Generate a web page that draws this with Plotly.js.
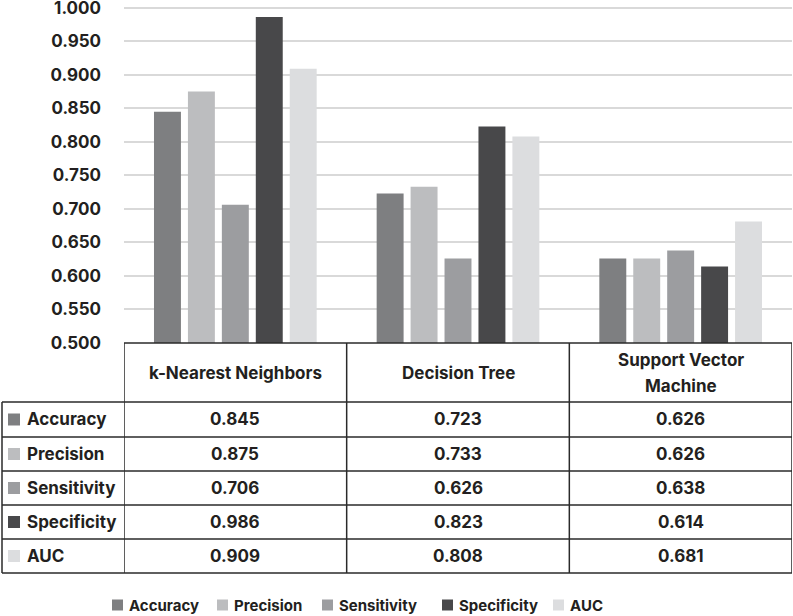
<!DOCTYPE html>
<html><head><meta charset="utf-8">
<script src="https://cdn.plot.ly/plotly-3.0.1.min.js"></script>
<style>html,body{margin:0;padding:0;background:#fff}#chart{width:793px;height:616px}</style>
</head><body><div id="chart"></div>
<script>
// ---- data ----
const categories = ["k-Nearest Neighbors", "Decision Tree", "Support Vector Machine"];
const headerLabels = ["k-Nearest Neighbors", "Decision Tree", "Support Vector<br>Machine"];
const metrics = ["Accuracy", "Precision", "Sensitivity", "Specificity", "AUC"];
const accuracy = [0.845, 0.723, 0.626];
const precision = [0.875, 0.733, 0.626];
const sensitivity = [0.706, 0.626, 0.638];
const specificity = [0.986, 0.823, 0.614];
const auc = [0.909, 0.808, 0.681];
const seriesValues = [accuracy, precision, sensitivity, specificity, auc];
const yTickVals = [0.5, 0.55, 0.6, 0.65, 0.7, 0.75, 0.8, 0.85, 0.9, 0.95, 1.0];
const yTickText = ["0.500", "0.550", "0.600", "0.650", "0.700", "0.750", "0.800", "0.850", "0.900", "0.950", "1.000"];
const colors = ["#7e7f81", "#bcbdbf", "#9c9da0", "#48484a", "#dcdddf"];

// ---- layout constants (pixels) ----
const W = 793, H = 616, ML = 124, MR = 1, MT = 5, MB = 273;
const PW = W - ML - MR, PH = H - MT - MB;
const plotBottom = MT + PH;
const X = p => (p - ML) / PW;
const Y = p => (plotBottom - p) / PH;
const FONT = "Inter, Lato, sans-serif";
const TXT = "#231f20";
const WEIGHT = 700;
const FS = 17;
const lineCol = "#2a2a2a";
const tableLeft = 2;
const headerBottom = 402;
const rowEdges = [402, 437, 471, 505, 539, 573];
const legendSq = [112, 217, 322, 442, 553];
const legendY = 605;

const traces = metrics.map((m, i) => ({
  type: "bar", name: m, x: categories, y: seriesValues[i],
  marker: {color: colors[i], line: {width: 0}},
  hoverinfo: "y+name"
}));

const shapes = [];
const annotations = [];
const hline = (x0, x1, xref, yp) => shapes.push({type: "line", xref: xref, yref: "paper", x0: x0, x1: x1, y0: Y(yp), y1: Y(yp), line: {color: lineCol, width: 1.5}});
const vline = (x, xref, y0p, y1p) => shapes.push({type: "line", xref: xref, yref: "paper", x0: x, x1: x, y0: Y(y0p), y1: Y(y1p), line: {color: lineCol, width: 1.5}});

hline(0, 1, "paper", plotBottom);
rowEdges.forEach(r => hline(X(tableLeft), 1, "paper", r));
vline(X(tableLeft), "paper", headerBottom, rowEdges[rowEdges.length - 1]);
for (let k = 0; k <= categories.length; k++) {
  vline(k - 0.5, "x", plotBottom, rowEdges[rowEdges.length - 1]);
}

headerLabels.forEach((h, k) => {
  const parts = h.split("<br>");
  const yc = (plotBottom + headerBottom) / 2;
  parts.forEach((p, j) => annotations.push({
    x: k, xref: "x", y: Y(yc + (j - (parts.length - 1) / 2) * 26), yref: "paper",
    text: p, showarrow: false, xanchor: "center", yanchor: "middle",
    font: {family: FONT, size: FS, color: TXT, weight: WEIGHT}
  }));
});

metrics.forEach((m, i) => {
  const yc = (rowEdges[i] + rowEdges[i + 1]) / 2;
  shapes.push({type: "rect", xref: "paper", yref: "paper", x0: X(8), x1: X(20), y0: Y(yc - 6), y1: Y(yc + 6), fillcolor: colors[i], line: {width: 0}});
  annotations.push({x: X(25), xref: "paper", y: Y(yc), yref: "paper", text: m, showarrow: false, xanchor: "left", yanchor: "middle",
    font: {family: FONT, size: FS, color: TXT, weight: WEIGHT}});
  seriesValues[i].forEach((v, k) => annotations.push({
    x: k, xref: "x", y: Y(yc), yref: "paper", text: v.toFixed(3), showarrow: false, xanchor: "center", yanchor: "middle",
    font: {family: FONT, size: FS, color: TXT, weight: WEIGHT}
  }));
});

metrics.forEach((m, i) => {
  shapes.push({type: "rect", xref: "paper", yref: "paper", x0: X(legendSq[i]), x1: X(legendSq[i] + 11), y0: Y(legendY - 5.5), y1: Y(legendY + 5.5), fillcolor: colors[i], line: {width: 0}});
  annotations.push({x: X(legendSq[i] + 15), xref: "paper", y: Y(legendY), yref: "paper", text: m, showarrow: false, xanchor: "left", yanchor: "middle",
    font: {family: FONT, size: 15, color: TXT, weight: WEIGHT}});
});

const layout = {
  width: W, height: H,
  margin: {l: ML, r: MR, t: MT, b: MB, pad: 0},
  paper_bgcolor: "#fff", plot_bgcolor: "#fff",
  showlegend: false,
  barmode: "group", bargap: 0.238, bargroupgap: 0.206,
  font: {family: FONT, color: TXT},
  xaxis: {type: "category", range: [-0.5, 2.5], showticklabels: false, showgrid: false, zeroline: false, showline: false, ticks: "", fixedrange: true},
  yaxis: {range: [0.5, 1.004], tickmode: "array", tickvals: yTickVals, ticktext: yTickText, showgrid: true, gridcolor: "#d9d9d9", gridwidth: 2,
    zeroline: false, showline: false, ticks: "", ticklabelstandoff: 22, ticklabeloverflow: "allow",
    tickfont: {family: FONT, size: FS, color: TXT, weight: WEIGHT}, fixedrange: true},
  shapes: shapes, annotations: annotations
};

Plotly.newPlot("chart", traces, layout, {displayModeBar: false, staticPlot: true});
</script></body></html>
